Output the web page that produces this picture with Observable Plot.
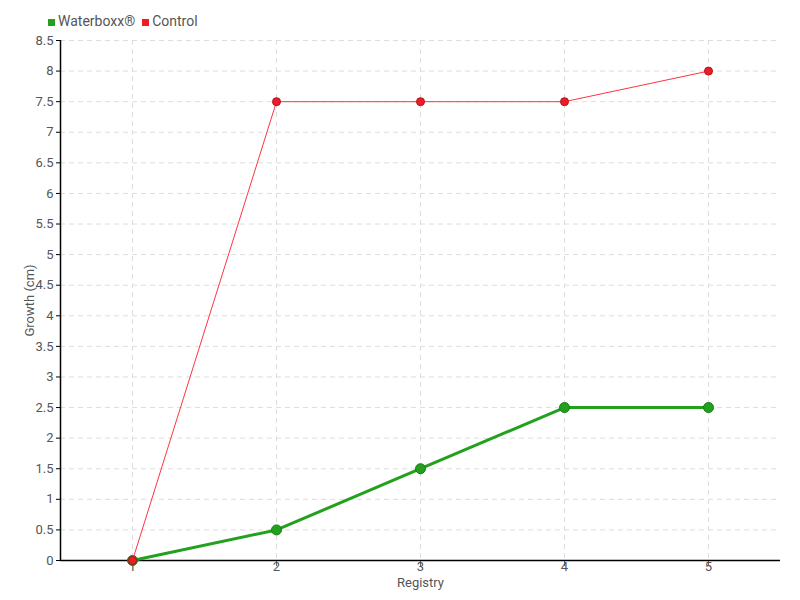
<!DOCTYPE html>
<html><head><meta charset="utf-8">
<script src="https://cdn.jsdelivr.net/npm/d3@7"></script>
<script src="https://cdn.jsdelivr.net/npm/@observablehq/plot@0.6"></script>
<style>
body{margin:0;background:#fff;font-family:Roboto,sans-serif;}
#wrap{position:relative;width:800px;height:600px;}
#legend{position:absolute;left:48px;top:13px;font-size:14px;color:#555;display:flex;gap:7px;align-items:center;}
#legend span.sw{display:inline-block;width:7px;height:7px;margin-right:3px;vertical-align:middle;}
</style></head>
<body><div id="wrap"><div id="legend"></div></div>
<script>
const registry = [1, 2, 3, 4, 5];
const waterboxx = [0, 0.5, 1.5, 2.5, 2.5];
const control = [0, 7.5, 7.5, 7.5, 8];
const yTicks = d3.range(0, 8.51, 0.5);
const seriesNames = ["Waterboxx®", "Control"];
const seriesColors = ["#22a01e", "#ee1c25"];

const wData = registry.map((r, i) => ({x: r, y: waterboxx[i]}));
const cData = registry.map((r, i) => ({x: r, y: control[i]}));

const leg = document.getElementById("legend");
seriesNames.forEach((n, i) => {
  const s = document.createElement("div");
  s.innerHTML = `<span class="sw" style="background:${seriesColors[i]}"></span>${n}`;
  leg.appendChild(s);
});

const chart = Plot.plot({
  width: 800, height: 600,
  marginTop: 40, marginBottom: 40, marginLeft: 60, marginRight: 20,
  style: {fontFamily: 'Roboto,sans-serif', fontSize: "13px", color: "#555", background: "transparent"},
  x: {domain: [0.5, 5.5], label: null},
  y: {domain: [0, 8.5], label: null},
  marks: [
    Plot.gridX(registry, {stroke: "#ddd", strokeOpacity: 1, strokeDasharray: "5,4"}),
    Plot.gridY(yTicks, {stroke: "#ddd", strokeOpacity: 1, strokeDasharray: "5,4"}),
    Plot.axisY({ticks: yTicks, tickFormat: d => String(d), tickSize: 4, tickPadding: 3, stroke: "#000", fill: "#555"}),
    Plot.axisX({ticks: registry, tickFormat: d => String(d), tickSize: 6, tickPadding: -5, stroke: "#666", fill: "#555"}),
    Plot.ruleX([0.5], {stroke: "#000", strokeWidth: 1.5}),
    Plot.ruleY([0], {stroke: "#000", strokeWidth: 1.5}),
    Plot.text(["Growth (cm)"], {frameAnchor: "left", textAnchor: "middle", dx: -31, rotate: -90, fill: "#555", fontSize: 13}),
    Plot.text(["Registry"], {frameAnchor: "bottom", dy: 26, fill: "#555", fontSize: 13}),
    Plot.line(wData, {x: "x", y: "y", stroke: seriesColors[0], strokeWidth: 3}),
    Plot.dot(wData, {x: "x", y: "y", r: 5, fill: seriesColors[0], stroke: "#1a7a1a", strokeWidth: 1}),
    Plot.line(cData, {x: "x", y: "y", stroke: "#ff3344", strokeWidth: 1}),
    Plot.dot(cData, {x: "x", y: "y", r: 4, fill: seriesColors[1], stroke: "#b01020", strokeWidth: 1})
  ]
});
document.getElementById("wrap").prepend(chart);
</script></body></html>
